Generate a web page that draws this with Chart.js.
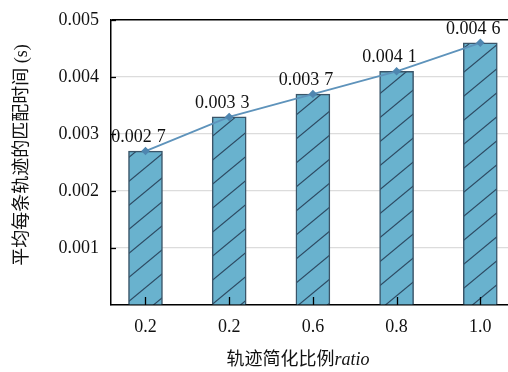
<!DOCTYPE html>
<html>
<head>
<meta charset="utf-8">
<script src="https://cdn.jsdelivr.net/npm/chart.js@4.4.1/dist/chart.umd.min.js"></script>
<style>
  html, body { margin: 0; padding: 0; background: #fff; overflow: hidden; }
  canvas { display: block; }
</style>
</head>
<body>
<canvas id="chart" width="508" height="372"></canvas>
<script>
// Trajectory simplification ratio vs. average matching time per trajectory
const categories = ['0.2', '0.2', '0.6', '0.8', '1.0'];
const matchTimes = [0.0027, 0.0033, 0.0037, 0.0041, 0.0046];
const yTicks = [0.001, 0.002, 0.003, 0.004, 0.005];
const yTitle = '平均每条轨迹的匹配时间 (s)';
const xTitleMain = '轨迹简化比例';
const xTitleItalic = 'ratio';

const SERIF = "'Liberation Serif', 'Times New Roman', 'Noto Sans CJK SC', serif";
const TITLE_FONT = "18px 'Liberation Serif', 'Noto Sans CJK SC', serif";

// Hatched fill: blue base with dark "/" lines
function makeHatch() {
  const w = 29, h = 24;
  const c = document.createElement('canvas');
  c.width = w; c.height = h;
  const g = c.getContext('2d');
  g.fillStyle = '#69b2ce';
  g.fillRect(0, 0, w, h);
  g.strokeStyle = '#2d4a62';
  g.lineWidth = 1.2;
  for (let k = -1; k <= 1; k++) {
    g.beginPath();
    g.moveTo(k * w - w, 2 * h);
    g.lineTo(k * w + 2 * w, -h);
    g.stroke();
  }
  return g.createPattern(c, 'repeat');
}

// "0.0027" -> ["0.002", "7"], drawn with a wide gap between the groups
function splitValue(v) {
  const s = v.toFixed(4);
  return [s.slice(0, 5), s.slice(5)];
}

const decorations = {
  id: 'decorations',
  afterDatasetsDraw(chart) {
    const { ctx, chartArea, scales } = chart;
    const xs = scales.x, ys = scales.y;
    ctx.save();
    // inward tick marks
    ctx.strokeStyle = '#000';
    ctx.lineWidth = 1.3;
    yTicks.forEach(v => {
      const y = Math.round(ys.getPixelForValue(v)) + 0.5;
      ctx.beginPath();
      ctx.moveTo(chartArea.left, y);
      ctx.lineTo(chartArea.left + 5, y);
      ctx.stroke();
    });
    categories.forEach((_, i) => {
      const x = Math.round(xs.getPixelForValue(i)) + 0.5;
      ctx.beginPath();
      ctx.moveTo(x, chartArea.bottom);
      ctx.lineTo(x, chartArea.bottom - 8);
      ctx.stroke();
    });
    // value labels above the bars
    ctx.fillStyle = '#111';
    ctx.font = '18px ' + SERIF;
    ctx.textAlign = 'left';
    ctx.textBaseline = 'alphabetic';
    const gap = 5;
    const meta = chart.getDatasetMeta(0);
    meta.data.forEach((bar, i) => {
      const [a, b] = splitValue(matchTimes[i]);
      const wa = ctx.measureText(a).width, wb = ctx.measureText(b).width;
      const x0 = bar.x - 7 - (wa + gap + wb) / 2;
      ctx.fillText(a, x0, bar.y - 9);
      ctx.fillText(b, x0 + wa + gap, bar.y - 9);
    });
    // axis titles
    ctx.font = TITLE_FONT;
    ctx.textBaseline = 'middle';
    ctx.save();
    ctx.translate(22, 155);
    ctx.rotate(-Math.PI / 2);
    ctx.textAlign = 'center';
    ctx.fillText(yTitle, 0, 0);
    ctx.restore();
    const italicFont = "italic 18px 'Liberation Serif', serif";
    const w1 = ctx.measureText(xTitleMain).width;
    ctx.font = italicFont;
    const w2 = ctx.measureText(xTitleItalic).width;
    const x0 = 298 - (w1 + w2) / 2;
    ctx.textAlign = 'left';
    ctx.font = TITLE_FONT;
    ctx.fillText(xTitleMain, x0, 360);
    ctx.font = italicFont;
    ctx.fillText(xTitleItalic, x0 + w1, 360);
    ctx.restore();
  }
};

const points = matchTimes.map((v, i) => ({ x: i, y: v }));

new Chart(document.getElementById('chart'), {
  type: 'bar',
  data: {
    datasets: [
      {
        type: 'bar',
        data: points,
        backgroundColor: makeHatch(),
        borderColor: '#3a5569',
        borderWidth: 1.5,
        barThickness: 34,
        order: 1
      },
      {
        type: 'line',
        data: points,
        borderColor: '#5e93bb',
        borderWidth: 1.8,
        pointStyle: 'rectRot',
        pointRadius: 3,
        pointBackgroundColor: '#4f86b0',
        pointBorderColor: '#4f86b0',
        tension: 0,
        order: 0
      }
    ]
  },
  options: {
    responsive: false,
    animation: false,
    devicePixelRatio: 1,
    layout: { autoPadding: false, padding: { top: 20, right: 0, bottom: 0, left: 0 } },
    plugins: { legend: { display: false }, tooltip: { enabled: false } },
    scales: {
      x: {
        type: 'linear',
        offset: false,
        min: -0.412,
        max: 4.331,
        afterFit(s) {
          s.height = 67;
          s.paddingLeft = 0; s.paddingRight = 0;
        },
        afterBuildTicks(s) { s.ticks = categories.map((_, i) => ({ value: i })); },
        grid: { display: false, drawTicks: false, offset: false },
        border: { display: true, color: '#000', width: 1.5 },
        ticks: {
          padding: 11,
          color: '#111',
          font: { family: SERIF, size: 18 },
          callback: v => categories[v]
        }
      },
      y: {
        min: 0,
        max: 0.005,
        afterFit(s) {
          s.width = 111;
          s.paddingTop = 0; s.paddingBottom = 0;
        },
        afterBuildTicks(s) { s.ticks = [0].concat(yTicks).map(v => ({ value: v })); },
        grid: {
          drawTicks: false,
          color: c => (c.tick && c.tick.value >= 0.00499 ? '#000' : '#dcdcdc'),
          lineWidth: c => (c.tick && c.tick.value >= 0.00499 ? 1.5 : 1.2)
        },
        border: { display: true, color: '#000', width: 1.5 },
        ticks: {
          padding: 12,
          color: '#111',
          font: { family: SERIF, size: 18 },
          callback: v => (v === 0 ? '' : v.toFixed(3))
        }
      }
    }
  },
  plugins: [decorations]
});
</script>
</body>
</html>
